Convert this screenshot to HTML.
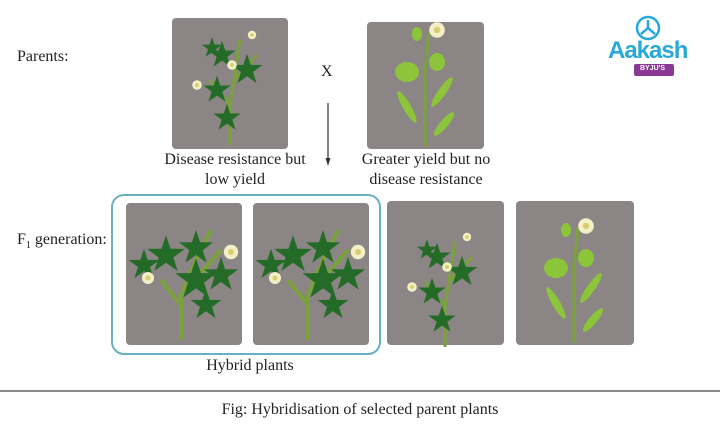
<!DOCTYPE html>
<html><head><meta charset="utf-8"><style>
html,body{margin:0;padding:0;background:#fff;}
body{width:720px;height:436px;position:relative;overflow:hidden;font-family:"Liberation Serif",serif;color:#222;}
.t{position:absolute;font-size:16px;line-height:20px;white-space:nowrap;}
svg{position:absolute;left:0;top:0;}
</style></head><body>
<svg width="720" height="436" viewBox="0 0 720 436">
<defs>
<path id="lf" d="M0,-18 L4.1,-5.7 L17.1,-5.6 L6.7,2.2 L10.6,14.6 L0,7 L-10.6,14.6 L-6.7,2.2 L-17.1,-5.6 L-4.1,-5.7Z"/>
<g id="flw"><circle r="6" fill="#f3f0c8"/><circle r="2.5" fill="#d8d070"/></g>
<g id="dense">
<path d="M55,130 L55,85 L70,50 L85,20 M55,95 L35,70 M60,80 L95,40" stroke="#7aa23a" stroke-width="4" fill="none"/>
<g fill="#246b28">
<use href="#lf" transform="translate(40,45) scale(1.1)"/>
<use href="#lf" transform="translate(18,55) scale(0.9)"/>
<use href="#lf" transform="translate(70,38) scale(1)"/>
<use href="#lf" transform="translate(70,70) scale(1.2)"/>
<use href="#lf" transform="translate(95,65) scale(1)"/>
<use href="#lf" transform="translate(80,95) scale(0.9)"/>
</g>
<use href="#flw" transform="translate(22,68)"/>
<use href="#flw" transform="translate(105,42) scale(1.2)"/>
</g>
<g id="wild">
<path d="M58,135 L58,95 L65,50 L68,30 M58,95 L38,70 M62,70 L85,45" stroke="#7aa23a" stroke-width="3" fill="none"/>
<g fill="#246b28">
<use href="#lf" transform="translate(50,45) scale(0.8)"/>
<use href="#lf" transform="translate(75,60) scale(0.9)"/>
<use href="#lf" transform="translate(45,80) scale(0.8)"/>
<use href="#lf" transform="translate(55,108) scale(0.8)"/>
<use href="#lf" transform="translate(40,38) scale(0.6)"/>
</g>
<use href="#flw" transform="translate(60,55) scale(0.8)"/>
<use href="#flw" transform="translate(25,75) scale(0.8)"/>
<use href="#flw" transform="translate(80,25) scale(0.7)"/>
</g>
<g id="tall">
<path d="M58,135 L58,60 L62,20" stroke="#7aa23a" stroke-width="3" fill="none"/>
<g fill="#8cc43a">
<ellipse cx="40" cy="60" rx="12" ry="10"/>
<ellipse cx="70" cy="50" rx="8" ry="9"/>
<ellipse cx="50" cy="22" rx="5" ry="7"/>
<ellipse cx="40" cy="95" rx="4" ry="18" transform="rotate(-30 40 95)"/>
<ellipse cx="75" cy="80" rx="4" ry="18" transform="rotate(35 75 80)"/>
<ellipse cx="77" cy="112" rx="4" ry="15" transform="rotate(40 77 112)"/>
</g>
<use href="#flw" transform="translate(70,18) scale(1.3)"/>
</g>
</defs>
<rect x="112" y="195" width="268" height="159" rx="12" fill="none" stroke="#6ab0c0" stroke-width="2"/>
<rect x="172" y="18" width="116" height="131" rx="4" fill="#8c8585"/>
<use href="#wild" transform="translate(172,10)"/>
<rect x="367" y="22" width="117" height="127" rx="4" fill="#8c8585"/>
<use href="#tall" transform="translate(367,12)"/>
<rect x="126" y="203" width="116" height="142" rx="4" fill="#8c8585"/>
<use href="#dense" transform="translate(126,210)"/>
<rect x="253" y="203" width="116" height="142" rx="4" fill="#8c8585"/>
<use href="#dense" transform="translate(253,210)"/>
<rect x="387" y="201" width="117" height="144" rx="4" fill="#8c8585"/>
<use href="#wild" transform="translate(387,212)"/>
<rect x="516" y="201" width="118" height="144" rx="4" fill="#8c8585"/>
<use href="#tall" transform="translate(516,208)"/>
<line x1="328" y1="103" x2="328" y2="162" stroke="#333" stroke-width="1.2"/>
<path d="M325.5,158 L328,166 L330.5,158Z" fill="#333"/>
<line x1="0" y1="391" x2="720" y2="391" stroke="#666" stroke-width="1.5"/>
<circle cx="648" cy="28" r="11" fill="none" stroke="#2aa8d8" stroke-width="2.5"/>
<path d="M648,20 L648,28 L641,34 M648,28 L655,34" stroke="#2aa8d8" stroke-width="2.5" fill="none"/>
<rect x="634" y="64" width="40" height="12" rx="2" fill="#8a3a94"/>
</svg>
<div class="t" style="left:17px;top:47px;">Parents:</div>
<div class="t" style="left:321px;top:62px;">X</div>
<div class="t" style="left:135px;top:150px;width:200px;text-align:center;">Disease resistance but<br>low yield</div>
<div class="t" style="left:326px;top:150px;width:200px;text-align:center;">Greater yield but no<br>disease resistance</div>
<div class="t" style="left:17px;top:230px;">F<sub style="font-size:10px">1</sub> generation:</div>
<div class="t" style="left:180px;top:356px;width:140px;text-align:center;">Hybrid plants</div>
<div class="t" style="left:160px;top:400px;width:400px;text-align:center;">Fig: Hybridisation of selected parent plants</div>
<div style="position:absolute;left:608px;top:37px;font-family:'Liberation Sans',sans-serif;font-weight:bold;font-size:24px;color:#2aa8d8;letter-spacing:-1px;">Aakash</div>
<div style="position:absolute;left:640px;top:65px;font-family:'Liberation Sans',sans-serif;font-size:7px;color:#fff;font-weight:bold;">BYJU'S</div>
</body></html>
